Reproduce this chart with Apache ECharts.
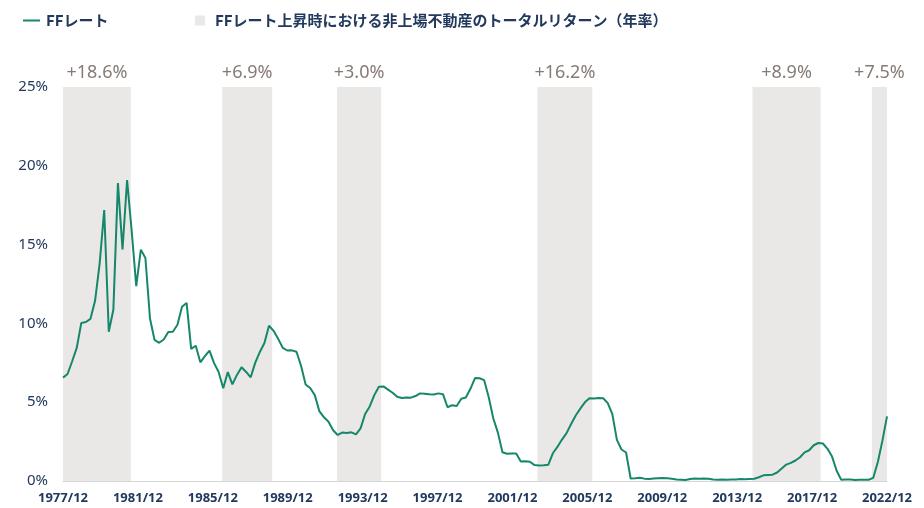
<!DOCTYPE html>
<html><head><meta charset="utf-8">
<script src="https://cdn.jsdelivr.net/npm/echarts@6/dist/echarts.min.js"></script>
<style>html,body{margin:0;padding:0;background:#fff}#c{width:924px;height:508px}</style>
</head><body><div id="c"></div>
<script>
// Quarterly FF rate (%), 1977/12 .. 2022/12 (Mar/Jun/Sep/Dec)
const firstYear = 1977 + 11 / 12;          // 1977/12
const ffRate = [
  6.56,
  6.79, 7.60, 8.45, 10.03,
  10.09, 10.29, 11.43, 13.78,
  17.19, 9.47, 10.87, 18.90,
  14.70, 19.10, 15.87, 12.37,
  14.68, 14.15, 10.31, 8.95,
  8.77, 8.98, 9.45, 9.47,
  9.91, 11.06, 11.30, 8.38,
  8.58, 7.53, 7.92, 8.27,
  7.48, 6.92, 5.89, 6.91,
  6.13, 6.73, 7.22, 6.92,
  6.58, 7.51, 8.19, 8.76,
  9.85, 9.53, 9.02, 8.45,
  8.28, 8.29, 8.20, 7.31,
  6.12, 5.90, 5.45, 4.43,
  4.04, 3.76, 3.22, 2.92,
  3.07, 3.04, 3.09, 2.96,
  3.34, 4.25, 4.73, 5.45,
  5.98, 6.00, 5.80, 5.60,
  5.34, 5.27, 5.30, 5.29,
  5.39, 5.56, 5.54, 5.50,
  5.49, 5.56, 5.51, 4.68,
  4.81, 4.76, 5.22, 5.30,
  5.85, 6.53, 6.52, 6.40,
  5.31, 3.97, 3.07, 1.82,
  1.73, 1.75, 1.75, 1.24,
  1.25, 1.22, 1.01, 0.98,
  1.00, 1.03, 1.76, 2.16,
  2.63, 3.04, 3.62, 4.16,
  4.59, 4.99, 5.25, 5.24,
  5.26, 5.25, 4.94, 4.24,
  2.61, 2.00, 1.81, 0.16,
  0.18, 0.21, 0.15, 0.12,
  0.16, 0.18, 0.19, 0.18,
  0.14, 0.09, 0.08, 0.07,
  0.13, 0.16, 0.14, 0.16,
  0.14, 0.09, 0.08, 0.09,
  0.08, 0.10, 0.09, 0.12,
  0.11, 0.13, 0.14, 0.24,
  0.36, 0.38, 0.40, 0.54,
  0.79, 1.04, 1.15, 1.30,
  1.51, 1.82, 1.95, 2.27,
  2.41, 2.38, 2.04, 1.55,
  0.65, 0.08, 0.09, 0.09,
  0.07, 0.08, 0.08, 0.08,
  0.20, 1.21, 2.56, 4.10
];
// Rate-hike periods (decimal years) and annualised private real estate total return
const bandStart = [1977.917, 1986.61, 1992.88, 2003.83, 2015.57, 2022.09];
const bandEnd   = [1981.62, 1989.34, 1995.29, 2006.82, 2019.29, 2022.92];
const bandReturn = ['+18.6%', '+6.9%', '+3.0%', '+16.2%', '+8.9%', '+7.5%'];
const xTickLabels = ['1977/12','1981/12','1985/12','1989/12','1993/12','1997/12','2001/12','2005/12','2009/12','2013/12','2017/12','2022/12'];
const yTicks = [0, 5, 10, 15, 20, 25];
const lineName = 'FFレート';
const bandName = 'FFレート上昇時における非上場不動産のトータルリターン（年率）';

const lastYear = firstYear + (ffRate.length - 1) / 4;
const lineData = ffRate.map((v, i) => [firstYear + i / 4, v]);
const areaData = bandStart.map((s, i) => [
  { xAxis: s, name: bandReturn[i] },
  { xAxis: bandEnd[i] }
]);

const navy = '#22395e';
const green = '#16876a';
const bandGray = '#e9e8e6';
const font = '"Noto Sans", "Noto Sans CJK JP", sans-serif';

const chart = echarts.init(document.getElementById('c'));
chart.setOption({
  animation: false,
  textStyle: { fontFamily: font },
  legend: [
    {
      left: 18, top: 8,
      data: [{ name: lineName, icon: 'rect' }],
      itemWidth: 17, itemHeight: 2,
      textStyle: { color: navy, fontSize: 15, fontWeight: 'bold', padding: [0, 0, 0, 1], fontFamily: '"Noto Sans CJK JP", sans-serif' }
    },
    {
      left: 190, top: 8,
      data: [{ name: bandName, icon: 'rect' }],
      itemWidth: 10, itemHeight: 10,
      textStyle: { color: navy, fontSize: 15, fontWeight: 'bold', padding: [0, 0, 0, 5], fontFamily: '"Noto Sans CJK JP", sans-serif' }
    }
  ],
  grid: { left: 63, right: 37, top: 87, bottom: 27, containLabel: false },
  xAxis: [
    {
      type: 'value', min: firstYear, max: lastYear,
      axisLine: { show: true, lineStyle: { color: '#d6d6d6', width: 1 } },
      axisTick: { show: false }, axisLabel: { show: false }, splitLine: { show: false }
    },
    {
      type: 'category', data: xTickLabels, boundaryGap: false, position: 'bottom',
      axisLine: { show: false }, axisTick: { show: false }, splitLine: { show: false },
      axisLabel: { interval: 0, color: navy, fontSize: 13, fontWeight: 'bold', margin: 11 }
    }
  ],
  yAxis: {
    type: 'value', min: yTicks[0], max: yTicks[yTicks.length - 1], interval: 5,
    axisLine: { show: false }, axisTick: { show: false }, splitLine: { show: false },
    axisLabel: { formatter: '{value}%', color: navy, fontSize: 15, margin: 15 }
  },
  series: [
    {
      name: bandName, type: 'line', data: [], xAxisIndex: 0,
      color: bandGray, itemStyle: { color: bandGray }, lineStyle: { color: bandGray },
      markArea: {
        silent: true,
        itemStyle: { color: bandGray },
        label: { show: true, position: 'top', distance: 5, color: '#877b75', fontSize: 18, fontFamily: font },
        data: areaData
      }
    },
    {
      name: lineName, type: 'line', data: lineData, xAxisIndex: 0,
      showSymbol: false, symbol: 'none', color: green,
      lineStyle: { color: green, width: 2 }, z: 5
    }
  ]
});
</script></body></html>
